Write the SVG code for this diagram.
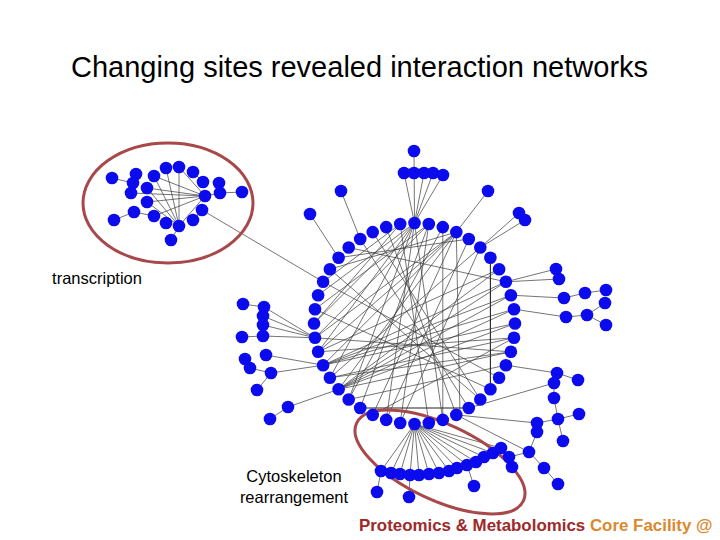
<svg xmlns="http://www.w3.org/2000/svg" width="720" height="540" viewBox="0 0 720 540">
<style>
.n{fill:#0b0bee;}
.c line{stroke:#3a3a3a;stroke-width:0.7;}
.hl{fill:none;stroke:#a8484a;stroke-width:3;}
.lbl{font-family:"Liberation Sans",Arial,sans-serif;font-size:16.5px;fill:#000;}
</style>
<rect width="720" height="540" fill="#fff"/>
<text x="359.5" y="77" font-family="Liberation Sans,Arial,sans-serif" font-size="29" text-anchor="middle" fill="#000">Changing sites revealed interaction networks</text>

<g id="connectors" class="c">
<line x1="414" y1="151" x2="414.5" y2="223"/>
<line x1="404" y1="173" x2="414.5" y2="223"/>
<line x1="424" y1="173" x2="414.5" y2="223"/>
<line x1="433" y1="173" x2="414.5" y2="223"/>
<line x1="443" y1="175" x2="414.5" y2="223"/>
<line x1="341" y1="191" x2="360.2" y2="239"/>
<line x1="310" y1="214" x2="338.6" y2="257.7"/>
<line x1="488" y1="191" x2="456.3" y2="232.1"/>
<line x1="519" y1="213" x2="480.3" y2="247.5"/>
<line x1="525" y1="220" x2="480.3" y2="247.5"/>
<line x1="112" y1="178" x2="133" y2="183"/>
<line x1="114" y1="220" x2="134" y2="212"/>
<line x1="134" y1="212" x2="154" y2="216"/>
<line x1="179" y1="226" x2="166" y2="168"/>
<line x1="179" y1="226" x2="179" y2="167"/>
<line x1="179" y1="226" x2="154" y2="176"/>
<line x1="179" y1="226" x2="147" y2="188"/>
<line x1="179" y1="226" x2="147" y2="202"/>
<line x1="179" y1="226" x2="205" y2="196"/>
<line x1="179" y1="226" x2="171" y2="240"/>
<line x1="205" y1="196" x2="147" y2="188"/>
<line x1="205" y1="196" x2="131" y2="193"/>
<line x1="205" y1="196" x2="154" y2="176"/>
<line x1="205" y1="196" x2="179" y2="167"/>
<line x1="205" y1="196" x2="147" y2="202"/>
<line x1="205" y1="196" x2="154" y2="216"/>
<line x1="205" y1="196" x2="220" y2="193"/>
<line x1="219" y1="183" x2="220" y2="193"/>
<line x1="220" y1="193" x2="242" y2="192"/>
<line x1="193" y1="172" x2="203" y2="182"/>
<line x1="202" y1="210" x2="193" y2="220"/>
<line x1="202" y1="210" x2="323.1" y2="281.8"/>
<line x1="243" y1="304" x2="264" y2="307"/>
<line x1="242" y1="337" x2="263" y2="336"/>
<line x1="264" y1="307" x2="315" y2="337.8"/>
<line x1="263" y1="316" x2="315" y2="337.8"/>
<line x1="263" y1="325" x2="315" y2="337.8"/>
<line x1="263" y1="336" x2="315" y2="337.8"/>
<line x1="245" y1="359" x2="250" y2="368"/>
<line x1="250" y1="368" x2="271" y2="373"/>
<line x1="266" y1="355" x2="323.1" y2="365.2"/>
<line x1="271" y1="373" x2="323.1" y2="365.2"/>
<line x1="271" y1="373" x2="257" y2="390"/>
<line x1="288" y1="407" x2="338.6" y2="389.3"/>
<line x1="270" y1="419" x2="288" y2="407"/>
<line x1="556" y1="269" x2="505.9" y2="281.8"/>
<line x1="559" y1="279" x2="505.9" y2="281.8"/>
<line x1="564" y1="298" x2="510.9" y2="295.2"/>
<line x1="564" y1="298" x2="585" y2="293"/>
<line x1="585" y1="293" x2="606" y2="290"/>
<line x1="566" y1="317" x2="514" y2="309.2"/>
<line x1="566" y1="317" x2="587" y2="315"/>
<line x1="587" y1="315" x2="605" y2="303"/>
<line x1="587" y1="315" x2="606" y2="325"/>
<line x1="557" y1="373" x2="505.9" y2="365.2"/>
<line x1="557" y1="373" x2="578" y2="380"/>
<line x1="554" y1="383" x2="468.8" y2="408"/>
<line x1="554" y1="383" x2="554" y2="398"/>
<line x1="554" y1="398" x2="558" y2="419"/>
<line x1="558" y1="419" x2="579" y2="414"/>
<line x1="558" y1="419" x2="537" y2="423"/>
<line x1="558" y1="419" x2="563" y2="441"/>
<line x1="537" y1="423" x2="537" y2="432"/>
<line x1="537" y1="432" x2="529" y2="452"/>
<line x1="529" y1="452" x2="544" y2="468"/>
<line x1="544" y1="468" x2="558" y2="484"/>
<line x1="509" y1="457" x2="529" y2="452"/>
<line x1="456.3" y1="414.9" x2="537" y2="423"/>
<line x1="456.3" y1="414.9" x2="529" y2="452"/>
<line x1="414.5" y1="424" x2="381" y2="471"/>
<line x1="414.5" y1="424" x2="391" y2="473"/>
<line x1="414.5" y1="424" x2="400" y2="474"/>
<line x1="414.5" y1="424" x2="410" y2="475"/>
<line x1="414.5" y1="424" x2="419" y2="475"/>
<line x1="414.5" y1="424" x2="429" y2="474"/>
<line x1="414.5" y1="424" x2="439" y2="473"/>
<line x1="414.5" y1="424" x2="449" y2="471"/>
<line x1="414.5" y1="424" x2="457" y2="468"/>
<line x1="414.5" y1="424" x2="467" y2="465"/>
<line x1="414.5" y1="424" x2="476" y2="462"/>
<line x1="414.5" y1="424" x2="484" y2="457"/>
<line x1="414.5" y1="424" x2="493" y2="453"/>
<line x1="414.5" y1="424" x2="501" y2="448"/>
<line x1="381" y1="471" x2="377" y2="492"/>
<line x1="410" y1="475" x2="409" y2="497"/>
<line x1="467" y1="465" x2="474" y2="486"/>
<line x1="501" y1="448" x2="509" y2="457"/>
<line x1="509" y1="457" x2="512" y2="467"/>
<line x1="414.5" y1="223" x2="442.8" y2="419.9"/>
<line x1="414.5" y1="223" x2="386.2" y2="419.9"/>
<line x1="414.5" y1="223" x2="348.7" y2="399.5"/>
<line x1="414.5" y1="223" x2="329.9" y2="377.8"/>
<line x1="414.5" y1="223" x2="318.1" y2="351.8"/>
<line x1="414.5" y1="223" x2="314" y2="323.5"/>
<line x1="414.5" y1="223" x2="318.1" y2="295.2"/>
<line x1="428.8" y1="224" x2="400.2" y2="423"/>
<line x1="428.8" y1="224" x2="360.2" y2="408"/>
<line x1="428.8" y1="224" x2="315" y2="337.8"/>
<line x1="428.8" y1="224" x2="315" y2="309.2"/>
<line x1="400.2" y1="224" x2="428.8" y2="423"/>
<line x1="400.2" y1="224" x2="314" y2="323.5"/>
<line x1="400.2" y1="224" x2="323.1" y2="281.8"/>
<line x1="386.2" y1="227.1" x2="456.3" y2="414.9"/>
<line x1="456.3" y1="232.1" x2="338.6" y2="389.3"/>
<line x1="456.3" y1="232.1" x2="323.1" y2="365.2"/>
<line x1="456.3" y1="232.1" x2="318.1" y2="351.8"/>
<line x1="456.3" y1="232.1" x2="315" y2="337.8"/>
<line x1="456.3" y1="232.1" x2="372.7" y2="414.9"/>
<line x1="456.3" y1="232.1" x2="329.9" y2="269.2"/>
<line x1="456.3" y1="232.1" x2="460" y2="414.9"/>
<line x1="442.8" y1="227.1" x2="348.7" y2="399.5"/>
<line x1="442.8" y1="227.1" x2="442.8" y2="419.9"/>
<line x1="338.6" y1="257.7" x2="468.8" y2="239"/>
<line x1="348.7" y1="247.5" x2="505.9" y2="281.8"/>
<line x1="490.4" y1="257.7" x2="490.4" y2="389.3" style="stroke-width:1.1;stroke:#222"/>
<line x1="360.2" y1="408" x2="468.8" y2="408" style="stroke-width:1.1;stroke:#222"/>
<line x1="323.1" y1="365.2" x2="505.9" y2="281.8"/>
<line x1="323.1" y1="365.2" x2="510.9" y2="295.2"/>
<line x1="323.1" y1="365.2" x2="514" y2="309.2"/>
<line x1="323.1" y1="365.2" x2="515" y2="323.5"/>
<line x1="318.1" y1="351.8" x2="514" y2="337.8"/>
<line x1="318.1" y1="351.8" x2="499.1" y2="269.2"/>
<line x1="315" y1="337.8" x2="510.9" y2="351.8"/>
<line x1="338.6" y1="389.3" x2="499.1" y2="269.2"/>
<line x1="338.6" y1="389.3" x2="505.9" y2="281.8"/>
<line x1="338.6" y1="389.3" x2="510.9" y2="295.2"/>
<line x1="338.6" y1="389.3" x2="514" y2="309.2"/>
<line x1="338.6" y1="389.3" x2="515" y2="323.5"/>
<line x1="338.6" y1="389.3" x2="510.9" y2="351.8"/>
<line x1="329.9" y1="377.8" x2="480.3" y2="247.5"/>
<line x1="329.9" y1="377.8" x2="514" y2="337.8"/>
<line x1="505.9" y1="365.2" x2="348.7" y2="399.5"/>
<line x1="510.9" y1="351.8" x2="329.9" y2="377.8"/>
<line x1="514" y1="337.8" x2="372.7" y2="414.9"/>
<line x1="499.1" y1="377.8" x2="323.1" y2="281.8"/>
<line x1="480.3" y1="399.5" x2="329.9" y2="269.2"/>
<line x1="490.4" y1="389.3" x2="315" y2="309.2"/>
<line x1="468.8" y1="239" x2="386.2" y2="419.9"/>
<line x1="480.3" y1="247.5" x2="400.2" y2="423"/>
<line x1="372.7" y1="232.1" x2="480.3" y2="399.5"/>
<line x1="360.2" y1="239" x2="468.8" y2="408"/>
</g>

<ellipse class="hl" cx="168" cy="203" rx="85" ry="60"/>
<ellipse class="hl" cx="440" cy="462" rx="92" ry="38" transform="rotate(25 440 462)"/>

<g id="ring">
<g id="r0"><circle class="n" cx="414.5" cy="223" r="6.3"/></g>
<g id="r1"><circle class="n" cx="428.8" cy="224" r="6.3"/></g>
<g id="r2"><circle class="n" cx="442.8" cy="227.1" r="6.3"/></g>
<g id="r3"><circle class="n" cx="456.3" cy="232.1" r="6.3"/></g>
<g id="r4"><circle class="n" cx="468.8" cy="239" r="6.3"/></g>
<g id="r5"><circle class="n" cx="480.3" cy="247.5" r="6.3"/></g>
<g id="r6"><circle class="n" cx="490.4" cy="257.7" r="6.3"/></g>
<g id="r7"><circle class="n" cx="499.1" cy="269.2" r="6.3"/></g>
<g id="r8"><circle class="n" cx="505.9" cy="281.8" r="6.3"/></g>
<g id="r9"><circle class="n" cx="510.9" cy="295.2" r="6.3"/></g>
<g id="r10"><circle class="n" cx="514" cy="309.2" r="6.3"/></g>
<g id="r11"><circle class="n" cx="515" cy="323.5" r="6.3"/></g>
<g id="r12"><circle class="n" cx="514" cy="337.8" r="6.3"/></g>
<g id="r13"><circle class="n" cx="510.9" cy="351.8" r="6.3"/></g>
<g id="r14"><circle class="n" cx="505.9" cy="365.2" r="6.3"/></g>
<g id="r15"><circle class="n" cx="499.1" cy="377.8" r="6.3"/></g>
<g id="r16"><circle class="n" cx="490.4" cy="389.3" r="6.3"/></g>
<g id="r17"><circle class="n" cx="480.3" cy="399.5" r="6.3"/></g>
<g id="r18"><circle class="n" cx="468.8" cy="408" r="6.3"/></g>
<g id="r19"><circle class="n" cx="456.3" cy="414.9" r="6.3"/></g>
<g id="r20"><circle class="n" cx="442.8" cy="419.9" r="6.3"/></g>
<g id="r21"><circle class="n" cx="428.8" cy="423" r="6.3"/></g>
<g id="r22"><circle class="n" cx="414.5" cy="424" r="6.3"/></g>
<g id="r23"><circle class="n" cx="400.2" cy="423" r="6.3"/></g>
<g id="r24"><circle class="n" cx="386.2" cy="419.9" r="6.3"/></g>
<g id="r25"><circle class="n" cx="372.7" cy="414.9" r="6.3"/></g>
<g id="r26"><circle class="n" cx="360.2" cy="408" r="6.3"/></g>
<g id="r27"><circle class="n" cx="348.7" cy="399.5" r="6.3"/></g>
<g id="r28"><circle class="n" cx="338.6" cy="389.3" r="6.3"/></g>
<g id="r29"><circle class="n" cx="329.9" cy="377.8" r="6.3"/></g>
<g id="r30"><circle class="n" cx="323.1" cy="365.2" r="6.3"/></g>
<g id="r31"><circle class="n" cx="318.1" cy="351.8" r="6.3"/></g>
<g id="r32"><circle class="n" cx="315" cy="337.8" r="6.3"/></g>
<g id="r33"><circle class="n" cx="314" cy="323.5" r="6.3"/></g>
<g id="r34"><circle class="n" cx="315" cy="309.2" r="6.3"/></g>
<g id="r35"><circle class="n" cx="318.1" cy="295.2" r="6.3"/></g>
<g id="r36"><circle class="n" cx="323.1" cy="281.8" r="6.3"/></g>
<g id="r37"><circle class="n" cx="329.9" cy="269.2" r="6.3"/></g>
<g id="r38"><circle class="n" cx="338.6" cy="257.7" r="6.3"/></g>
<g id="r39"><circle class="n" cx="348.7" cy="247.5" r="6.3"/></g>
<g id="r40"><circle class="n" cx="360.2" cy="239" r="6.3"/></g>
<g id="r41"><circle class="n" cx="372.7" cy="232.1" r="6.3"/></g>
<g id="r42"><circle class="n" cx="386.2" cy="227.1" r="6.3"/></g>
<g id="r43"><circle class="n" cx="400.2" cy="224" r="6.3"/></g>
</g>

<g id="outer">
<g id="t0"><circle class="n" cx="414" cy="151" r="6.3"/></g>
<g id="t1"><circle class="n" cx="404" cy="173" r="6.3"/></g>
<g id="t2"><circle class="n" cx="414" cy="173" r="6.3"/></g>
<g id="t3"><circle class="n" cx="424" cy="173" r="6.3"/></g>
<g id="t4"><circle class="n" cx="433" cy="173" r="6.3"/></g>
<g id="t5"><circle class="n" cx="443" cy="175" r="6.3"/></g>
<g id="s1"><circle class="n" cx="341" cy="191" r="6.3"/></g>
<g id="s2"><circle class="n" cx="310" cy="214" r="6.3"/></g>
<g id="s3"><circle class="n" cx="488" cy="191" r="6.3"/></g>
<g id="s4"><circle class="n" cx="519" cy="213" r="6.3"/></g>
<g id="s5"><circle class="n" cx="525" cy="220" r="6.3"/></g>
<g id="l1"><circle class="n" cx="243" cy="304" r="6.3"/></g>
<g id="l2"><circle class="n" cx="264" cy="307" r="6.3"/></g>
<g id="l3"><circle class="n" cx="263" cy="316" r="6.3"/></g>
<g id="l4"><circle class="n" cx="263" cy="325" r="6.3"/></g>
<g id="l5"><circle class="n" cx="263" cy="336" r="6.3"/></g>
<g id="l6"><circle class="n" cx="242" cy="337" r="6.3"/></g>
<g id="l7"><circle class="n" cx="245" cy="359" r="6.3"/></g>
<g id="l8"><circle class="n" cx="266" cy="355" r="6.3"/></g>
<g id="l9"><circle class="n" cx="250" cy="368" r="6.3"/></g>
<g id="l10"><circle class="n" cx="271" cy="373" r="6.3"/></g>
<g id="l11"><circle class="n" cx="257" cy="390" r="6.3"/></g>
<g id="l12"><circle class="n" cx="288" cy="407" r="6.3"/></g>
<g id="l13"><circle class="n" cx="270" cy="419" r="6.3"/></g>
<g id="q1"><circle class="n" cx="556" cy="269" r="6.3"/></g>
<g id="q2"><circle class="n" cx="559" cy="279" r="6.3"/></g>
<g id="q3"><circle class="n" cx="564" cy="298" r="6.3"/></g>
<g id="q4"><circle class="n" cx="585" cy="293" r="6.3"/></g>
<g id="q5"><circle class="n" cx="606" cy="290" r="6.3"/></g>
<g id="q6"><circle class="n" cx="605" cy="303" r="6.3"/></g>
<g id="q7"><circle class="n" cx="606" cy="325" r="6.3"/></g>
<g id="q8"><circle class="n" cx="566" cy="317" r="6.3"/></g>
<g id="q9"><circle class="n" cx="587" cy="315" r="6.3"/></g>
<g id="q10"><circle class="n" cx="557" cy="373" r="6.3"/></g>
<g id="q11"><circle class="n" cx="578" cy="380" r="6.3"/></g>
<g id="q12"><circle class="n" cx="554" cy="383" r="6.3"/></g>
<g id="q13"><circle class="n" cx="554" cy="398" r="6.3"/></g>
<g id="q14"><circle class="n" cx="558" cy="419" r="6.3"/></g>
<g id="q15"><circle class="n" cx="579" cy="414" r="6.3"/></g>
<g id="q16"><circle class="n" cx="537" cy="423" r="6.3"/></g>
<g id="q17"><circle class="n" cx="537" cy="432" r="6.3"/></g>
<g id="q18"><circle class="n" cx="563" cy="441" r="6.3"/></g>
<g id="q19"><circle class="n" cx="529" cy="452" r="6.3"/></g>
<g id="q20"><circle class="n" cx="544" cy="468" r="6.3"/></g>
<g id="q21"><circle class="n" cx="558" cy="484" r="6.3"/></g>
<g id="b1"><circle class="n" cx="381" cy="471" r="6.3"/></g>
<g id="b2"><circle class="n" cx="391" cy="473" r="6.3"/></g>
<g id="b3"><circle class="n" cx="400" cy="474" r="6.3"/></g>
<g id="b4"><circle class="n" cx="410" cy="475" r="6.3"/></g>
<g id="b5"><circle class="n" cx="419" cy="475" r="6.3"/></g>
<g id="b6"><circle class="n" cx="429" cy="474" r="6.3"/></g>
<g id="b7"><circle class="n" cx="439" cy="473" r="6.3"/></g>
<g id="b8"><circle class="n" cx="449" cy="471" r="6.3"/></g>
<g id="b9"><circle class="n" cx="457" cy="468" r="6.3"/></g>
<g id="b10"><circle class="n" cx="467" cy="465" r="6.3"/></g>
<g id="b11"><circle class="n" cx="476" cy="462" r="6.3"/></g>
<g id="b12"><circle class="n" cx="484" cy="457" r="6.3"/></g>
<g id="b13"><circle class="n" cx="493" cy="453" r="6.3"/></g>
<g id="b14"><circle class="n" cx="501" cy="448" r="6.3"/></g>
<g id="b15"><circle class="n" cx="377" cy="492" r="6.3"/></g>
<g id="b16"><circle class="n" cx="409" cy="497" r="6.3"/></g>
<g id="b17"><circle class="n" cx="474" cy="486" r="6.3"/></g>
<g id="b18"><circle class="n" cx="509" cy="457" r="6.3"/></g>
<g id="b19"><circle class="n" cx="512" cy="467" r="6.3"/></g>
<g id="cA"><circle class="n" cx="112" cy="178" r="6.3"/></g>
<g id="cB"><circle class="n" cx="136" cy="174" r="6.3"/></g>
<g id="cC"><circle class="n" cx="133" cy="183" r="6.3"/></g>
<g id="cD"><circle class="n" cx="131" cy="193" r="6.3"/></g>
<g id="cE"><circle class="n" cx="147" cy="188" r="6.3"/></g>
<g id="cF"><circle class="n" cx="154" cy="176" r="6.3"/></g>
<g id="cG"><circle class="n" cx="166" cy="168" r="6.3"/></g>
<g id="cH"><circle class="n" cx="179" cy="167" r="6.3"/></g>
<g id="cI"><circle class="n" cx="193" cy="172" r="6.3"/></g>
<g id="cJ"><circle class="n" cx="203" cy="182" r="6.3"/></g>
<g id="cK"><circle class="n" cx="219" cy="183" r="6.3"/></g>
<g id="cL"><circle class="n" cx="220" cy="193" r="6.3"/></g>
<g id="cM"><circle class="n" cx="242" cy="192" r="6.3"/></g>
<g id="cN"><circle class="n" cx="205" cy="196" r="6.3"/></g>
<g id="cO"><circle class="n" cx="147" cy="202" r="6.3"/></g>
<g id="cP"><circle class="n" cx="202" cy="210" r="6.3"/></g>
<g id="cQ"><circle class="n" cx="134" cy="212" r="6.3"/></g>
<g id="cR"><circle class="n" cx="114" cy="220" r="6.3"/></g>
<g id="cS"><circle class="n" cx="154" cy="216" r="6.3"/></g>
<g id="cT"><circle class="n" cx="166" cy="223" r="6.3"/></g>
<g id="cU"><circle class="n" cx="179" cy="226" r="6.3"/></g>
<g id="cV"><circle class="n" cx="193" cy="220" r="6.3"/></g>
<g id="cW"><circle class="n" cx="171" cy="240" r="6.3"/></g>
</g>

<text class="lbl" x="97" y="284" text-anchor="middle">transcription</text>
<text class="lbl" x="294" y="482" text-anchor="middle">Cytoskeleton</text>
<text class="lbl" x="294" y="503" text-anchor="middle">rearrangement</text>
<text x="359" y="531" font-family="Liberation Sans,Arial,sans-serif" font-size="16.9" font-weight="bold" fill="#9c2a2a">Proteomics &amp; Metabolomics <tspan fill="#d9892e">Core Facility @</tspan></text>
</svg>
